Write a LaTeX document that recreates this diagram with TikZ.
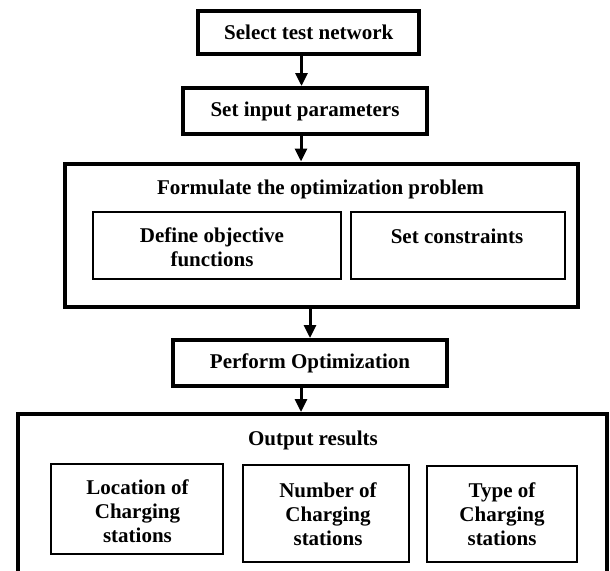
\documentclass[tikz,border=0pt]{standalone}
\usepackage{fontspec}
\setmainfont{Liberation Serif}
\usetikzlibrary{arrows.meta}
\begin{document}
\begin{tikzpicture}[x=1pt,y=-1pt,
  txt/.style={font=\fontsize{21}{24}\selectfont\bfseries, align=center, inner sep=0pt},
  stagebox/.style={draw, line width=4pt, inner sep=0pt, txt},
  subbox/.style={draw, line width=2pt, inner sep=0pt},
  flow/.style={line width=3pt, -{Triangle[width=12pt,length=13pt]}}]
\useasboundingbox (0,0) rectangle (610,570);

% main stages
\node[stagebox, minimum width=221pt, minimum height=43pt] (select) at (308.75,32.5) {Select test network};
\node[stagebox, minimum width=244pt, minimum height=46pt] (input) at (305,111) {Set input parameters};
\node[stagebox, minimum width=512.5pt, minimum height=143.5pt] (formulate) at (321.25,235.25) {};
\node[stagebox, minimum width=274pt, minimum height=46pt] (perform) at (310,363) {Perform Optimization};
\node[stagebox, minimum width=589pt, minimum height=186pt] (output) at (312.5,507) {};

% optimization problem
\node[txt, anchor=base] (formtitle) at (320.5,194) {Formulate the optimization problem};
\node[subbox, minimum width=248pt, minimum height=67pt] (objbox) at (217,245.5) {};
\node[subbox, minimum width=214pt, minimum height=67pt] (conbox) at (458,245.5) {};
\node[txt] (objtext) at (212,247.25) {Define objective\\functions};
\node[txt, anchor=base] (context) at (457,243) {Set constraints};

% results
\node[txt, anchor=base] (outtitle) at (313,445) {Output results};
\node[subbox, minimum width=172pt, minimum height=90pt] (locbox) at (137,509) {};
\node[subbox, minimum width=166pt, minimum height=97pt] (numbox) at (326,513.5) {};
\node[subbox, minimum width=150pt, minimum height=96pt] (typbox) at (502,514) {};
\node[txt] (loctext) at (137.5,510.75) {Location of\\Charging\\stations};
\node[txt] (numtext) at (328,513.75) {Number of\\Charging\\stations};
\node[txt] (typtext) at (502,513.75) {Type of\\Charging\\stations};

% connectors
\coordinate (ax1) at (301.5,0);
\coordinate (ax2) at (301,0);
\coordinate (ax3) at (310,0);
\draw[flow] (select.south -| ax1) -- (input.north -| ax1);
\draw[flow] (input.south -| ax2) -- (formulate.north -| ax2);
\draw[flow] (formulate.south -| ax3) -- (perform.north -| ax3);
\draw[flow] (perform.south -| ax2) -- (output.north -| ax2);
\end{tikzpicture}
\end{document}
